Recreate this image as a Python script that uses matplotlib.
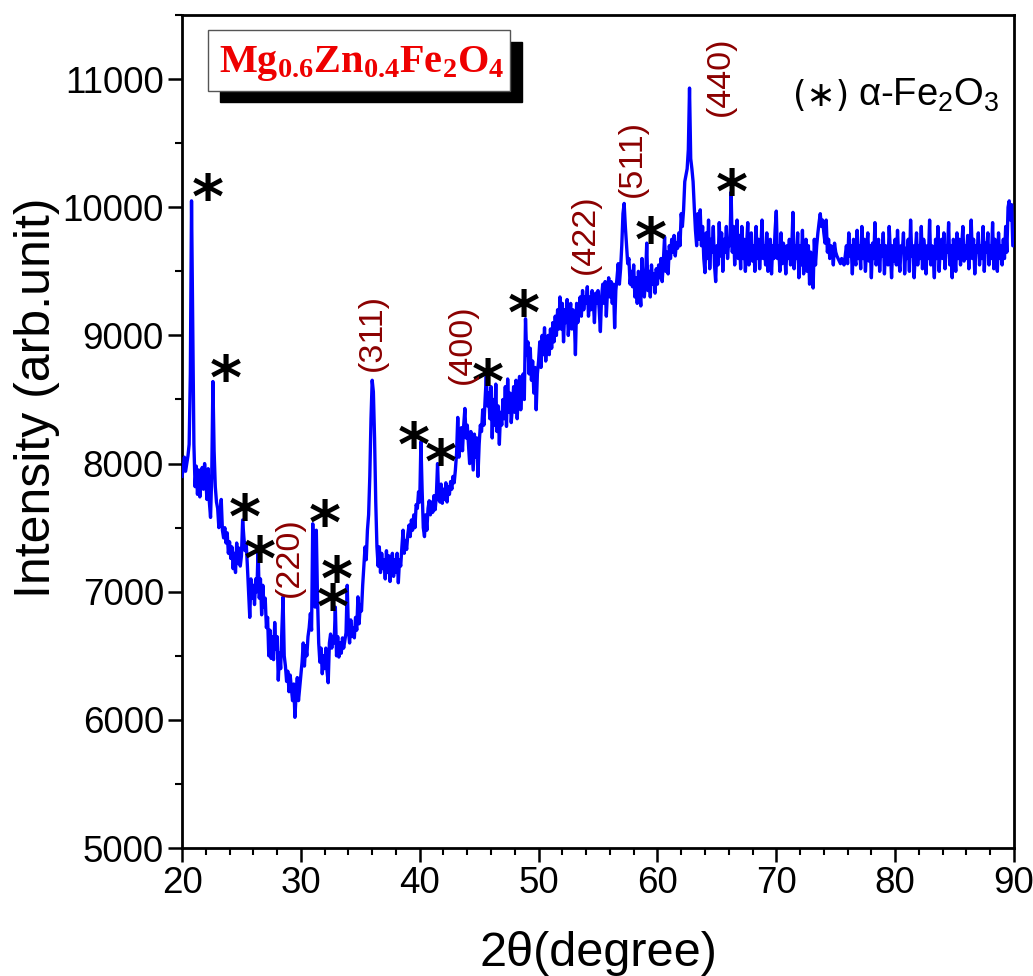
import numpy as np
import matplotlib
matplotlib.use('Agg')
import matplotlib.pyplot as plt
from matplotlib.patches import Rectangle
from matplotlib.ticker import MultipleLocator

plt.rcParams['font.family'] = ['Liberation Sans', 'DejaVu Sans']
plt.rcParams['mathtext.fontset'] = 'custom'
plt.rcParams['mathtext.rm'] = 'Liberation Sans'
plt.rcParams['mathtext.it'] = 'Liberation Sans:italic'
plt.rcParams['mathtext.bf'] = 'Liberation Serif:bold'

# ---------------- data ----------------
two_theta_start = 20.0
two_theta_step = 0.1
intensity_rows = [
    [7900, 7960, 8050, 7940, 8000, 8060, 8150, 8700, 10050, 9100],   # 20
    [8150, 7820, 7980, 7760, 7950, 7740, 7900, 7970, 7800, 8000],    # 21
    [7870, 7720, 7960, 7700, 7580, 7900, 8640, 8100, 7820, 7700],    # 22
    [7650, 7500, 7560, 7720, 7480, 7420, 7500, 7380, 7460, 7300],    # 23
    [7390, 7260, 7350, 7180, 7300, 7150, 7380, 7220, 7340, 7200],    # 24
    [7280, 7560, 7430, 7320, 7380, 7200, 7000, 6800, 7100, 6950],    # 25
    [7050, 6900, 7100, 7000, 7340, 6950, 7100, 6820, 7050, 6880],    # 26
    [6950, 6720, 6800, 6500, 6700, 6480, 6650, 6470, 6760, 6550],    # 27
    [6650, 6310, 6520, 6400, 6700, 6960, 6500, 6420, 6300, 6380],    # 28
    [6220, 6350, 6250, 6150, 6280, 6020, 6200, 6330, 6150, 6250],    # 29
    [6350, 6450, 6600, 6420, 6580, 6500, 6650, 6720, 6830, 6700],    # 30
    [7530, 7000, 6880, 7480, 6950, 6600, 6450, 6560, 6360, 6500],    # 31
    [6400, 6560, 6380, 6290, 6600, 6670, 6560, 6650, 6600, 6880],    # 32
    [6500, 6650, 6490, 6600, 6520, 6640, 6560, 6620, 6680, 7050],    # 33
    [6700, 6600, 6780, 6650, 6720, 6640, 6800, 6700, 6960, 6750],    # 34
    [6900, 6850, 7050, 7200, 7350, 7250, 7480, 7600, 7900, 8350],    # 35
    [8650, 8560, 8200, 7700, 7350, 7200, 7350, 7150, 7300, 7180],    # 36
    [7250, 7100, 7320, 7150, 7280, 7080, 7230, 7300, 7120, 7250],    # 37
    [7150, 7300, 7070, 7250, 7200, 7350, 7480, 7300, 7400, 7330],    # 38
    [7450, 7520, 7430, 7560, 7480, 7600, 7500, 7680, 7650, 7780],    # 39
    [7700, 8170, 7800, 7500, 7430, 7600, 7480, 7650, 7710, 7600],    # 40
    [7700, 7620, 7750, 7640, 7750, 8000, 7720, 7700, 7840, 7690],    # 41
    [7800, 7720, 7850, 7700, 7820, 7760, 7860, 7800, 7900, 7850],    # 42
    [7950, 8080, 8360, 8050, 8150, 8280, 8100, 8300, 8430, 8200],    # 43
    [8300, 8150, 8000, 8250, 8100, 7950, 8230, 8050, 8200, 7900],    # 44
    [8150, 8300, 8250, 8420, 8300, 8500, 8680, 8450, 8550, 8350],    # 45
    [8600, 8200, 8500, 8300, 8620, 8250, 8450, 8150, 8400, 8300],    # 46
    [8500, 8350, 8600, 8290, 8660, 8400, 8550, 8320, 8450, 8600],    # 47
    [8400, 8650, 8350, 8550, 8680, 8420, 8600, 8700, 8500, 9130],    # 48
    [8850, 8950, 8700, 8900, 8650, 8800, 8550, 8750, 8420, 8700],    # 49
    [8800, 8950, 8750, 9000, 8850, 9060, 8800, 8950, 9000, 8850],    # 50
    [9050, 8900, 9100, 8950, 9150, 9000, 9200, 9050, 9300, 9050],    # 51
    [9250, 8950, 9200, 9100, 9280, 9000, 9150, 9250, 9050, 9200],    # 52
    [9150, 8850, 9250, 9100, 9200, 9300, 9150, 9350, 9200, 9300],    # 53
    [9250, 9380, 9150, 9300, 9200, 9350, 9280, 9100, 9330, 9250],    # 54
    [9350, 9200, 9030, 9300, 9400, 9250, 9420, 9150, 9350, 9450],    # 55
    [9300, 9420, 9250, 9400, 9060, 9350, 9450, 9560, 9400, 9520],    # 56
    [9700, 9950, 10030, 9850, 9700, 9560, 9600, 9400, 9500, 9380],   # 57
    [9550, 9300, 9450, 9250, 9500, 9350, 9230, 9600, 9400, 9300],    # 58
    [9450, 9720, 9350, 9500, 9300, 9550, 9400, 9480, 9330, 9520],    # 59
    [9400, 9550, 9450, 9600, 9420, 9580, 9770, 9500, 9650, 9480],    # 60
    [9700, 9600, 9750, 9650, 9780, 9620, 9720, 9680, 9800, 9700],    # 61
    [9950, 9850, 9980, 10200, 10250, 10300, 10450, 10930, 10380, 10300],  # 62
    [10200, 10000, 9820, 9700, 9950, 9750, 9980, 9700, 9850, 9600],  # 63
    [9490, 9800, 9600, 9900, 9520, 9750, 9650, 9850, 9550, 9420],    # 64
    [9700, 9550, 9880, 9620, 9800, 9500, 9750, 9650, 9850, 9600],    # 65
    [9750, 9700, 10120, 9650, 9850, 9550, 9800, 9900, 9600, 9780],   # 66
    [9520, 9850, 9600, 9750, 9500, 9700, 9880, 9550, 9650, 9800],    # 67
    [9580, 9700, 9500, 9850, 9600, 9750, 9520, 9680, 9900, 9600],    # 68
    [9700, 9550, 9800, 9500, 9650, 9750, 9480, 9700, 9600, 9820],    # 69
    [9970, 9600, 9700, 9500, 9800, 9560, 9720, 9650, 9480, 9700],    # 70
    [9600, 9750, 9550, 9680, 9960, 9520, 9700, 9600, 9800, 9450],    # 71
    [9700, 9550, 9820, 9480, 9650, 9750, 9500, 9700, 9400, 9650],    # 72
    [9600, 9370, 9750, 9550, 9700, 9800, 9880, 9950, 9850, 9900],    # 73
    [9800, 9720, 9900, 9650, 9750, 9600, 9700, 9680, 9550, 9720],    # 74
    [9650, 9620, 9600, 9580, 9560, 9600, 9580, 9550, 9620, 9700],    # 75
    [9560, 9800, 9620, 9700, 9480, 9750, 9600, 9550, 9820, 9600],    # 76
    [9700, 9520, 9850, 9600, 9750, 9500, 9680, 9800, 9580, 9700],    # 77
    [9450, 9720, 9600, 9880, 9550, 9650, 9750, 9500, 9700, 9620],    # 78
    [9800, 9480, 9700, 9600, 9550, 9850, 9650, 9450, 9700, 9580],    # 79
    [9750, 9550, 9820, 9600, 9500, 9700, 9650, 9800, 9480, 9680],    # 80
    [9600, 9750, 9500, 9900, 9620, 9700, 9450, 9650, 9800, 9550],    # 81
    [9700, 9600, 9850, 9520, 9750, 9650, 9480, 9700, 9600, 9900],    # 82
    [9550, 9700, 9620, 9450, 9750, 9600, 9850, 9500, 9680, 9750],    # 83
    [9600, 9800, 9520, 9700, 9650, 9880, 9550, 9700, 9450, 9750],    # 84
    [9650, 9500, 9800, 9600, 9750, 9550, 9700, 9850, 9580, 9700],    # 85
    [9600, 9780, 9520, 9680, 9900, 9600, 9750, 9480, 9700, 9650],    # 86
    [9800, 9550, 9700, 9600, 9850, 9500, 9720, 9650, 9800, 9550],    # 87
    [9700, 9600, 9880, 9520, 9750, 9650, 9500, 9800, 9600, 9700],    # 88
    [9550, 9750, 9600, 9850, 9650, 10000, 10050, 9900, 10020, 9700], # 89
    [9700],                                                          # 90
]

star_x = [22.19, 23.70, 25.30, 26.56, 32.03, 33.04, 32.70, 39.52, 41.79, 45.74, 48.77, 59.46, 66.27]
star_y = [10173, 8761, 7676, 7348, 7629, 7192, 6974, 8238, 8105, 8729, 9275, 9837, 10212]

hkl_labels = ['(220)', '(311)', '(400)', '(422)', '(511)', '(440)']
hkl_x = [29.0, 36.0, 43.56, 53.9, 57.86, 65.26]
hkl_y = [7270, 9026, 8932, 9790, 10383, 11023]

x_ticks = [20, 30, 40, 50, 60, 70, 80, 90]
y_ticks = [5000, 6000, 7000, 8000, 9000, 10000, 11000]

sample_label = r'$\mathbf{Mg_{0.6}Zn_{0.4}Fe_{2}O_{4}}$'
phase_mark = '(\u2217)'
phase_label = '\u03b1-Fe$_{2}$O$_{3}$'

# ---------------- plot ----------------
intensity = np.array([v for row in intensity_rows for v in row], dtype=float)
two_theta = np.round(two_theta_start + two_theta_step * np.arange(len(intensity)), 2)

fig = plt.figure(figsize=(10.33, 9.76), dpi=100)
ax = fig.add_axes([0.1762, 0.1311, 0.8054, 0.8535])

ax.plot(two_theta, intensity, color='#0000FF', lw=2.4, zorder=3)

ax.set_xlim(20, 90)
ax.set_ylim(5000, 11500)
ax.set_xticks(x_ticks)
ax.set_yticks(y_ticks)
ax.xaxis.set_minor_locator(MultipleLocator(2))
ax.yaxis.set_minor_locator(MultipleLocator(500))
ax.tick_params(which='major', direction='out', length=10, width=1.8,
               labelsize=26.5, top=False, right=False, pad=3)
ax.tick_params(which='minor', direction='out', length=5, width=1.5,
               top=False, right=False)
for s in ax.spines.values():
    s.set_linewidth(2.0)

ax.set_ylabel('Intensity (arb.unit)', fontsize=36)
ax.set_xlabel('2\u03b8(degree)', fontsize=35)
ax.yaxis.set_label_coords(-0.147, 0.541)
ax.xaxis.set_label_coords(0.5, -0.100)

for sx, sy in zip(star_x, star_y):
    ax.annotate('*', xy=(sx, sy), xytext=(0, -24), textcoords='offset points',
                ha='center', va='baseline', fontsize=44, fontweight='bold',
                family='DejaVu Sans', color='black', zorder=4)

for lab, hx, hy in zip(hkl_labels, hkl_x, hkl_y):
    ax.text(hx, hy, lab, rotation=90, ha='center', va='center',
            fontsize=24.5, color='#8B0000', zorder=4)

# sample title box with shadow
ax.add_patch(Rectangle((0.0457, 0.8959), 0.3630, 0.0721, transform=ax.transAxes,
                       facecolor='black', edgecolor='black', zorder=5))
ax.add_patch(Rectangle((0.03125, 0.9091), 0.3630, 0.0729, transform=ax.transAxes,
                       facecolor='white', edgecolor='#555555', lw=1.0, zorder=6))
ax.text(0.2163, 0.932, sample_label, transform=ax.transAxes, ha='center',
        va='baseline', fontsize=29, color='#EE0000', zorder=7)

ax.text(0.734, 0.891, phase_mark, transform=ax.transAxes, ha='left',
        va='baseline', fontsize=25, color='black', family='DejaVu Sans', zorder=4)
ax.text(0.812, 0.891, phase_label, transform=ax.transAxes, ha='left',
        va='baseline', fontsize=27.5, color='black', zorder=4)

fig.savefig('out.png', dpi=100)
